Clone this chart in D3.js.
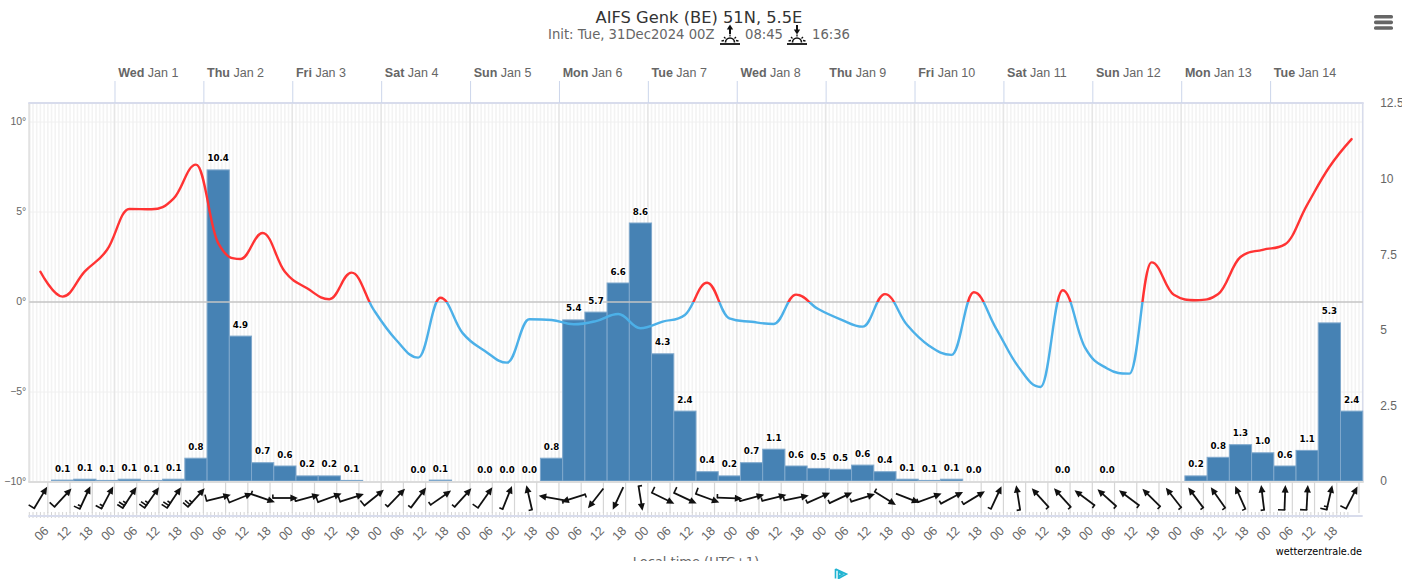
<!DOCTYPE html>
<html>
<head>
<meta charset="utf-8">
<script src="https://cdn.jsdelivr.net/npm/d3@7"></script>
<style>
  html, body { margin: 0; padding: 0; background: #fff; overflow: hidden; }
  svg { display: block; font-family: "DejaVu Sans", sans-serif; }
  .tick text { fill: #666; }
  .domain { display: none; }
  .val { font-size: 8.7px; font-weight: bold; fill: #000; text-anchor: middle; paint-order: stroke; stroke: #fff; stroke-width: 2px; }
</style>
</head>
<body>
<svg id="chart" width="1402" height="579"></svg>
<script>
// 6-hourly temperature, first value at hour 4 of the run
const temps = [1.68, 0.3, 1.7, 2.9, 5.17, 5.15, 5.76, 7.63, 3.27, 2.39, 3.83, 1.68, 0.76, 0.15, 1.63,
  -0.44, -2.1, -3.09, 0.24, -1.73, -2.72, -3.37, -0.96, -1.0, -1.24, -1.06, -0.67, -1.46, -1.09, -0.72,
  1.07, -0.91, -1.1, -1.22, 0.41, -0.39, -0.96, -1.37, 0.44, -1.28, -2.44, -2.94, 0.54, -1.46, -3.59,
  -4.72, 0.65, -2.52, -3.69, -3.98, 2.2, 0.4, 0.1, 0.45, 2.5, 2.9, 3.2, 5.4, 7.5, 9.05];

// 6-hourly precipitation, first bar starts at hour 7. null = no bar and no label
// rain is the height, rainLabels is what is printed above them
const rain = [0.03, 0.06, 0.02, 0.06, 0.02, 0.06, 0.76, 10.37, 4.83, 0.61, 0.5, 0.17, 0.17, 0.02, null, null, 0, 0.03,
  null, 0, 0, 0, 0.76, 5.37, 5.63, 6.6, 8.6, 4.24, 2.33, 0.31, 0.17, 0.61, 1.06, 0.5, 0.42, 0.39, 0.53, 0.31,
  0.06, 0.02, 0.06, 0, null, null, null, 0, null, 0, null, null, null, 0.17, 0.79, 1.21, 0.94, 0.5, 1.02, 5.27, 2.33];
const rainLabels = ['0.1', '0.1', '0.1', '0.1', '0.1', '0.1', '0.8', '10.4', '4.9', '0.7', '0.6', '0.2', '0.2', '0.1', null, null, '0.0', '0.1',
  null, '0.0', '0.0', '0.0', '0.8', '5.4', '5.7', '6.6', '8.6', '4.3', '2.4', '0.4', '0.2', '0.7', '1.1', '0.6', '0.5', '0.5', '0.6', '0.4',
  '0.1', '0.1', '0.1', '0.0', null, null, null, '0.0', null, '0.0', null, null, null, '0.2', '0.8', '1.3', '1.0', '0.6', '1.1', '5.3', '2.4'];

// arrow heading in degrees, and wind speed in knots (sets the feathers)
const windDir = [31, 43, 25, 28, 33, 35, 34, 42, 76, 68, 109, 90, 75, 70, 72, 51, 44, 37, 55, 42,
  35, 22, 347, 280, 252, 218, 205, 171, 116, 115, 110, 92, 75, 76, 79, 66, 65, 72, 122, 111, 70,
  62, 59, 25, 351, 318, 318, 307, 312, 307, 315, 322, 323, 325, 336, 353, 2, 3, 13, 27];
const windSpeed = [10, 10, 15, 15, 25, 25, 25, 25, 10, 10, 5, 5, 5, 10, 10, 10, 5, 5, 5, 5,
  10, 5, 5, 5, 5, 0, 0, 5, 10, 10, 10, 5, 5, 5, 5, 5, 5, 5, 5, 0, 5,
  5, 5, 5, 5, 5, 5, 5, 5, 5, 5, 5, 5, 5, 5, 5, 10, 10, 15, 10];

const dayNames = ['Wed', 'Thu', 'Fri', 'Sat', 'Sun', 'Mon', 'Tue', 'Wed', 'Thu', 'Fri', 'Sat', 'Sun', 'Mon', 'Tue'];
const dayDates = ['Jan 1', 'Jan 2', 'Jan 3', 'Jan 4', 'Jan 5', 'Jan 6', 'Jan 7', 'Jan 8', 'Jan 9', 'Jan 10', 'Jan 11', 'Jan 12', 'Jan 13', 'Jan 14'];
const tempTicks = [-10, -5, 0, 5, 10];
const rainTicks = [0, 2.5, 5, 7.5, 10, 12.5];

const L = 29.3, R = 1362.7, T = 103, B = 482;
const svg = d3.select('#chart');

// x is hours since Dec 31 00 local
const x = d3.scaleLinear().domain([1, 361]).range([L, R]);
const yT = d3.scaleLinear().domain([-10, 10]).range([B, 122]);
const yR = d3.scaleLinear().domain([0, 12.5]).range([481, 106]); // bars
const yRAxis = d3.scaleLinear().domain([0, 12.5]).range([481, 103]); // labels sit slightly off the bars in the original

const hours = d3.range(1, 362);
const sixes = d3.range(6, 361, 6);
const days = d3.range(24, 361, 24).slice(0, 14);

// spline with flat handles at turning points, no overshoot
function spline(pts) {
  const smooth = 1.5, den = smooth + 1;
  let d = `M${pts[0][0]},${pts[0][1]}`;
  const handles = pts.map((p, i) => {
    const a = pts[i - 1], b = pts[i + 1];
    if (!a || !b) return { lx: p[0], ly: p[1], rx: p[0], ry: p[1] };
    const lx = (smooth * p[0] + a[0]) / den, rx = (smooth * p[0] + b[0]) / den;
    let ly = (smooth * p[1] + a[1]) / den, ry = (smooth * p[1] + b[1]) / den;
    const c = (ry - ly) * (rx - p[0]) / (rx - lx) + p[1] - ry;
    ly += c; ry += c;
    if (ly > Math.max(a[1], p[1])) { ly = Math.max(a[1], p[1]); ry = 2 * p[1] - ly; }
    else if (ly < Math.min(a[1], p[1])) { ly = Math.min(a[1], p[1]); ry = 2 * p[1] - ly; }
    if (ry > Math.max(b[1], p[1])) { ry = Math.max(b[1], p[1]); ly = 2 * p[1] - ry; }
    else if (ry < Math.min(b[1], p[1])) { ry = Math.min(b[1], p[1]); ly = 2 * p[1] - ry; }
    return { lx, ly, rx, ry };
  });
  for (let i = 1; i < pts.length; i++) {
    const h0 = handles[i - 1], h1 = handles[i];
    d += `C${h0.rx},${h0.ry} ${h1.lx},${h1.ly} ${pts[i][0]},${pts[i][1]}`;
  }
  return d;
}

// hourly stripes
svg.append('g').selectAll('line').data(hours).join('line')
  .attr('x1', d => x(d)).attr('x2', d => x(d)).attr('y1', T).attr('y2', B)
  .attr('stroke', '#f3f3f3').attr('stroke-width', 1.6);

// horizontal grid
svg.append('g').selectAll('line').data(tempTicks.filter(d => d != 0 && d != -10)).join('line')
  .attr('x1', L).attr('x2', R).attr('y1', d => yT(d)).attr('y2', d => yT(d))
  .attr('stroke', '#f0f0f0').attr('stroke-width', 1);

// day lines
svg.append('g').selectAll('line').data(days).join('line')
  .attr('x1', d => x(d)).attr('x2', d => x(d)).attr('y1', T).attr('y2', B)
  .attr('stroke', '#e6e6e6').attr('stroke-width', 1.5);

// frame
svg.append('line').attr('x1', L).attr('x2', L).attr('y1', T).attr('y2', B).attr('stroke', '#e2e2e2').attr('stroke-width', 2);
svg.append('line').attr('x1', R).attr('x2', R).attr('y1', T).attr('y2', B).attr('stroke', '#d8dcec').attr('stroke-width', 1.5);
svg.append('line').attr('x1', L - 1).attr('x2', R + 1).attr('y1', T).attr('y2', T).attr('stroke', '#d8dcec').attr('stroke-width', 2);

// bars
const rainBars = rain.map((v, i) => ({ v, label: rainLabels[i], t0: 7 + 6 * i })).filter(d => d.v !== null);
svg.append('g').selectAll('rect').data(rainBars.filter(d => d.v > 0)).join('rect')
  .attr('x', d => x(d.t0)).attr('width', d => x(d.t0 + 6) - x(d.t0))
  .attr('y', d => yR(d.v)).attr('height', d => yR(0) - yR(d.v))
  .attr('fill', '#4682b4').attr('stroke', '#7fa8cc').attr('stroke-width', 1);

// bottom line and zero line
svg.append('line').attr('x1', L - 1).attr('x2', R + 1).attr('y1', B).attr('y2', B).attr('stroke', '#dcdcdc').attr('stroke-width', 2);
svg.append('line').attr('x1', L).attr('x2', R).attr('y1', yT(0)).attr('y2', yT(0)).attr('stroke', '#c4c4c4').attr('stroke-width', 1.5);

// temperature, red above zero, blue below
const tempPath = spline(temps.map((d, i) => [x(4 + 6 * i), yT(d)]));
const defs = svg.append('defs');
defs.append('clipPath').attr('id', 'above').append('rect').attr('x', 0).attr('y', 0).attr('width', 1402).attr('height', yT(0));
defs.append('clipPath').attr('id', 'below').append('rect').attr('x', 0).attr('y', yT(0)).attr('width', 1402).attr('height', 579 - yT(0));
defs.append('clipPath').attr('id', 'page').append('rect').attr('x', 0).attr('y', 0).attr('width', 1402).attr('height', 561);
[['above', '#ff3333'], ['below', '#4cb0e8']].forEach(([id, col]) => {
  svg.append('path').attr('d', tempPath).attr('clip-path', `url(#${id})`)
    .attr('fill', 'none').attr('stroke', col).attr('stroke-width', 2.4).attr('stroke-linecap', 'round');
});

// bar labels
svg.append('g').selectAll('text').data(rainBars).join('text').attr('class', 'val')
  .attr('x', d => x(d.t0 + 3)).attr('y', d => yR(d.v) - 8.5).text(d => d.label);

// wind strip
svg.append('g').selectAll('line').data(sixes).join('line')
  .attr('x1', d => x(d)).attr('x2', d => x(d)).attr('y1', B).attr('y2', 513)
  .attr('stroke', '#d6d6d6').attr('stroke-width', 1.2);
svg.append('g').selectAll('line').data(hours.filter(d => d < 358)).join('line')
  .attr('x1', d => x(d)).attr('x2', d => x(d)).attr('y1', 512).attr('y2', 518)
  .attr('stroke', '#d4d4d4').attr('stroke-width', 1);
svg.append('line').attr('x1', L - 1).attr('x2', R).attr('y1', 516).attr('y2', 516).attr('stroke', '#d8dcec').attr('stroke-width', 2);

const barbs = svg.append('g').selectAll('g').data(windDir).join('g')
  .attr('transform', (d, i) => `translate(${x(4 + 6 * i)},498) rotate(${d})`);
barbs.append('line').attr('x1', 0).attr('x2', 0).attr('y1', 12).attr('y2', -8)
  .attr('stroke', '#111').attr('stroke-width', 1.8);
barbs.append('path').attr('d', 'M0,-13L3.5,-5.5L-3.5,-5.5Z').attr('fill', '#111');
barbs.each(function (d, i) {
  const g = d3.select(this);
  let left = windSpeed[i], pos = 12;
  if (left == 5) { // a lone short feather sits on the tail
    g.append('line').attr('x1', 0.8).attr('x2', -3.5).attr('y1', pos).attr('y2', pos)
      .attr('stroke', '#111').attr('stroke-width', 1.6);
    return;
  }
  while (left > 0) {
    const len = left >= 10 ? 6.5 : 3.5;
    g.append('line').attr('x1', 0.8).attr('x2', -len).attr('y1', pos).attr('y2', pos)
      .attr('stroke', '#111').attr('stroke-width', 1.6);
    left -= left >= 10 ? 10 : 5;
    pos -= 3;
  }
});

// axes
const axLeft = svg.append('g').attr('transform', `translate(${L - 1},0)`)
  .call(d3.axisLeft(yT).tickValues(tempTicks).tickSize(0).tickPadding(2).tickFormat(d => (d < 0 ? '\u2212' + (-d) : d) + '\u00b0'));
axLeft.selectAll('text').style('font-size', '10.5px').attr('dy', '0.2em');

const axRight = svg.append('g').attr('transform', `translate(${R},0)`)
  .call(d3.axisRight(yRAxis).tickValues(rainTicks).tickSize(0).tickPadding(17.5).tickFormat(d => d));
axRight.selectAll('text').style('font-size', '12px').attr('dy', '0.32em');

const axBottom = svg.append('g').attr('transform', `translate(0,${B})`)
  .call(d3.axisBottom(x).tickValues(sixes.filter(d => d < 358)).tickSize(0).tickFormat(d => d3.format('02')(d % 24)));
axBottom.selectAll('text')
  .style('font-size', '12.5px').attr('text-anchor', 'end')
  .attr('dy', 0).attr('y', 0)
  .attr('transform', 'translate(1,49.5) rotate(-45)');

const axTop = svg.append('g').attr('transform', `translate(0,${T})`)
  .call(d3.axisTop(x).tickValues(days).tickSize(22).tickFormat(''));
axTop.selectAll('line').attr('stroke', '#ccd6eb').attr('stroke-width', 1);
axTop.selectAll('.tick').each(function (d, i) {
  const t = d3.select(this).append('text').attr('x', 3.2).attr('y', -26.5).attr('text-anchor', 'start').style('font-size', '12.5px');
  t.append('tspan').attr('font-weight', 'bold').text(dayNames[i]);
  t.append('tspan').text(' ' + dayDates[i]);
});

// title
svg.append('text').attr('x', 699).attr('y', 22.5).attr('text-anchor', 'middle')
  .attr('fill', '#333').style('font-size', '16.3px').text('AIFS Genk (BE) 51N, 5.5E');
const subs = [['Init: Tue, 31Dec2024 00Z', 548], ['08:45', 745], ['16:36', 812]];
svg.append('g').selectAll('text').data(subs).join('text')
  .attr('x', d => d[1]).attr('y', 39).attr('fill', '#666').style('font-size', '13.2px').text(d => d[0]);

// sunrise / sunset icons
function sunIcon(cx, up) {
  const g = svg.append('g').attr('transform', `translate(${cx},44)`).attr('stroke', '#111').attr('fill', 'none');
  g.append('line').attr('x1', -10).attr('x2', 10).attr('y1', 0).attr('y2', 0).attr('stroke-width', 1.8);
  g.append('path').attr('d', 'M-4.5,-1.5A4.5,4.5 0 0 1 4.5,-1.5').attr('stroke-width', 1.6);
  [[-8.5, -3, -6, -3.5], [-6, -7, -4.5, -5.5], [6, -7, 4.5, -5.5], [8.5, -3, 6, -3.5], [0, -9.5, 0, -7.5]].forEach(r => {
    g.append('line').attr('x1', r[0]).attr('y1', r[1]).attr('x2', r[2]).attr('y2', r[3]).attr('stroke-width', 1.3);
  });
  g.append('line').attr('x1', 0).attr('x2', 0).attr('y1', up ? -10 : -19).attr('y2', up ? -15 : -13).attr('stroke-width', 2);
  g.append('path').attr('d', up ? 'M0,-19.5L3.2,-14.5L-3.2,-14.5Z' : 'M0,-9.5L3.2,-14.5L-3.2,-14.5Z').attr('fill', '#111').attr('stroke', 'none');
}
sunIcon(730, true);
sunIcon(797, false);

// menu button
svg.append('g').selectAll('rect').data([15, 20.6, 26.2]).join('rect')
  .attr('x', 1374).attr('width', 19).attr('y', d => d).attr('height', 3.6).attr('rx', 1.6).attr('fill', '#666');

// cut off by the page in the original
svg.append('text').attr('x', 696).attr('y', 566).attr('text-anchor', 'middle').attr('clip-path', 'url(#page)')
  .attr('fill', '#666').style('font-size', '13px').text('Local time (UTC+1)');
svg.append('text').attr('x', 1362).attr('y', 555).attr('text-anchor', 'end').attr('fill', '#000')
  .style('font-size', '9.7px').text('wetterzentrale.de');

// ad marker
svg.append('path').attr('d', 'M835.5,569V578.5M835.5,569L846.5,574L838.5,578.5V572L842.5,574L838.5,576.5')
  .attr('fill', 'none').attr('stroke', '#1fb3d1').attr('stroke-width', 1.6);
</script>
</body>
</html>
